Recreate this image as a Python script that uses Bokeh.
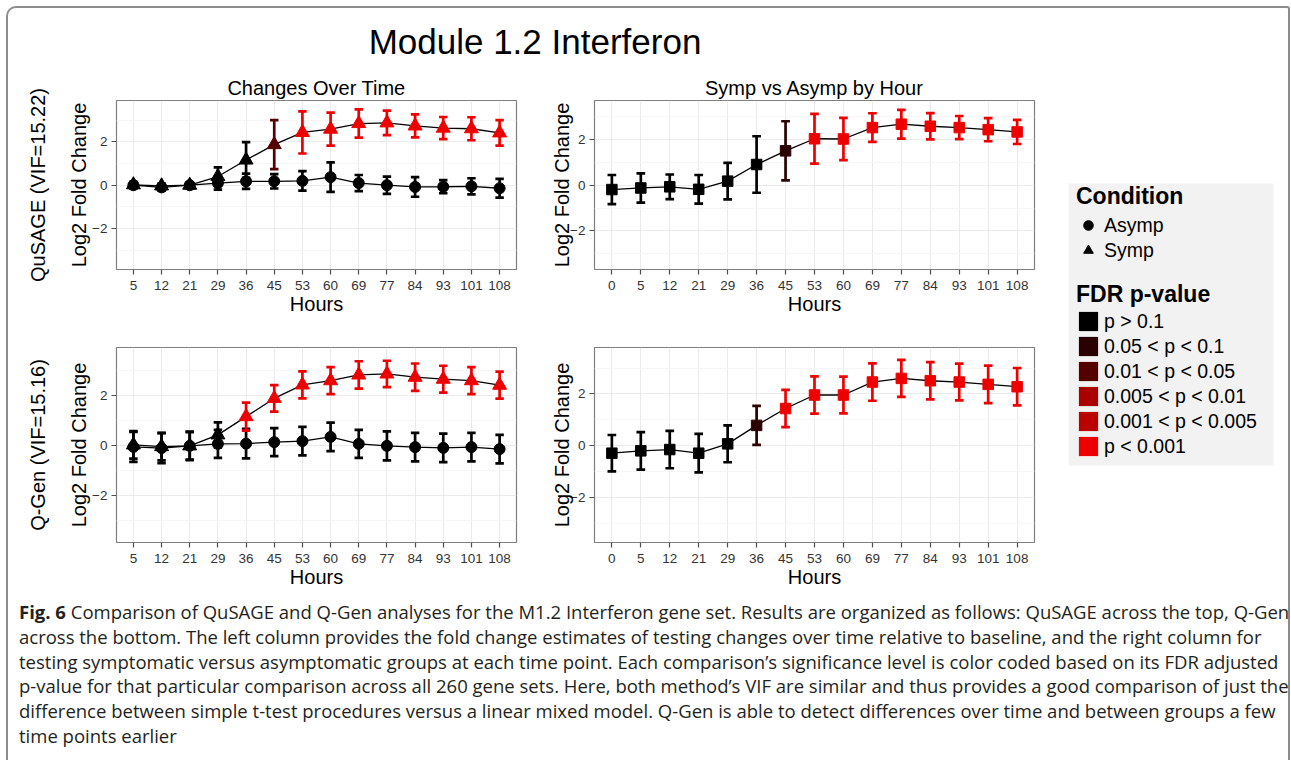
from bokeh.plotting import figure
from bokeh.models import (ColumnDataSource, Range1d, FixedTicker, LinearAxis,
                          Legend, LegendItem, BoxAnnotation, Div)
from bokeh.layouts import column, row
from bokeh.transform import dodge
from bokeh.embed import file_html
from bokeh.resources import INLINE

FONT = "Liberation Sans"

# ---------------- data ----------------
hours_time = [5, 12, 21, 29, 36, 45, 53, 60, 69, 77, 84, 93, 101, 108]
hours_group = [0, 5, 12, 21, 29, 36, 45, 53, 60, 69, 77, 84, 93, 101, 108]

sig_levels = ["p > 0.1", "0.05 < p < 0.1", "0.01 < p < 0.05",
              "0.005 < p < 0.01", "0.001 < p < 0.005", "p < 0.001"]
sig_colors = ["#000000", "#2b0000", "#550000", "#aa0000", "#bb0000", "#ee0000"]

conditions = ["Asymp", "Symp"]

# QuSAGE - changes over time
qusage_asymp_est = [0.0, -0.1, 0.0, 0.1, 0.18, 0.18, 0.2, 0.37, 0.1, 0.0, -0.08, -0.07, -0.05, -0.14]
qusage_asymp_err = [0.15, 0.15, 0.13, 0.3, 0.35, 0.33, 0.45, 0.68, 0.37, 0.4, 0.45, 0.3, 0.37, 0.43]
qusage_asymp_sig = ["p > 0.1"] * 14
qusage_symp_est = [0.02, -0.03, 0.0, 0.4, 1.16, 1.87, 2.43, 2.58, 2.84, 2.87, 2.73, 2.63, 2.6, 2.41]
qusage_symp_err = [0.1, 0.1, 0.1, 0.42, 0.82, 1.13, 0.97, 0.76, 0.65, 0.56, 0.53, 0.51, 0.53, 0.59]
qusage_symp_sig = ["p > 0.1"] * 5 + ["0.01 < p < 0.05"] + ["p < 0.001"] * 8

# QuSAGE - symp vs asymp by hour
qusage_diff_est = [-0.19, -0.12, -0.07, -0.18, 0.18, 0.91, 1.51, 2.04, 2.03, 2.53, 2.68, 2.59, 2.53, 2.44, 2.34]
qusage_diff_err = [0.64, 0.64, 0.54, 0.63, 0.8, 1.24, 1.3, 1.09, 0.93, 0.63, 0.63, 0.58, 0.51, 0.51, 0.53]
qusage_diff_sig = ["p > 0.1"] * 6 + ["0.05 < p < 0.1"] + ["p < 0.001"] * 8

# Q-Gen - changes over time
qgen_asymp_est = [-0.04, -0.09, 0.0, 0.08, 0.09, 0.15, 0.19, 0.36, 0.08, 0.0, -0.05, -0.08, -0.05, -0.13]
qgen_asymp_err = [0.6, 0.6, 0.57, 0.56, 0.59, 0.56, 0.57, 0.57, 0.56, 0.58, 0.57, 0.57, 0.57, 0.57]
qgen_asymp_sig = ["p > 0.1"] * 14
qgen_symp_est = [0.04, -0.03, 0.0, 0.44, 1.17, 1.9, 2.44, 2.61, 2.84, 2.88, 2.75, 2.67, 2.61, 2.43]
qgen_symp_err = [0.55, 0.55, 0.55, 0.5, 0.56, 0.53, 0.54, 0.54, 0.55, 0.53, 0.55, 0.54, 0.54, 0.54]
qgen_symp_sig = ["p > 0.1"] * 4 + ["p < 0.001"] * 10

# Q-Gen - symp vs asymp by hour
qgen_diff_est = [-0.28, -0.19, -0.14, -0.28, 0.08, 0.79, 1.44, 1.96, 1.96, 2.46, 2.6, 2.51, 2.46, 2.37, 2.28]
qgen_diff_err = [0.7, 0.72, 0.72, 0.74, 0.71, 0.75, 0.72, 0.72, 0.71, 0.72, 0.71, 0.72, 0.71, 0.72, 0.72]
qgen_diff_sig = ["p > 0.1"] * 5 + ["0.05 < p < 0.1"] + ["p < 0.001"] * 9

COLOR_OF = dict(zip(sig_levels, sig_colors))


def series_source(hours, est, err, sig):
    return ColumnDataSource(dict(
        x=list(range(len(hours))),
        est=est,
        lo=[e - d for e, d in zip(est, err)],
        hi=[e + d for e, d in zip(est, err)],
        color=[COLOR_OF[s] for s in sig],
    ))


def make_panel(hours, series, y_lo, y_hi, width, height, borders,
               title=None, row_label=None, ylab_standoff=2, rowlab_standoff=20):
    n = len(hours)
    bl, br, bt, bb = borders
    p = figure(width=width, height=height,
               x_range=Range1d(-0.6, n - 0.4), y_range=Range1d(y_lo, y_hi),
               output_backend="svg", toolbar_location=None,
               min_border_left=bl, min_border_right=br,
               min_border_top=bt, min_border_bottom=bb, margin=0)
    if title:
        p.title.text = title
        p.title.align = "center"
        p.title.text_font = FONT
        p.title.text_font_size = "20px"
        p.title.text_font_style = "normal"
        p.title.text_color = "black"
        p.title.standoff = 3
    p.outline_line_color = "#7f7f7f"
    p.outline_line_width = 1.2
    p.xaxis.ticker = FixedTicker(ticks=list(range(n)))
    p.xaxis.major_label_overrides = {i: str(h) for i, h in enumerate(hours)}
    p.yaxis.ticker = FixedTicker(ticks=[-2, 0, 2], minor_ticks=[-3, -1, 1, 3])
    for ax in (p.xaxis[0], p.yaxis[0]):
        ax.axis_line_color = None
        ax.major_tick_line_color = "#4d4d4d"
        ax.major_tick_line_width = 1.2
        ax.major_tick_out = 5
        ax.major_tick_in = 0
        ax.minor_tick_line_color = None
        ax.major_label_text_font = FONT
        ax.major_label_text_font_size = "13.5px"
        ax.major_label_text_color = "#333333"
        ax.major_label_standoff = 4
        ax.axis_label_text_font = FONT
        ax.axis_label_text_font_size = "20px"
        ax.axis_label_text_font_style = "normal"
        ax.axis_label_text_color = "black"
    p.xaxis.axis_label = "Hours"
    p.xaxis.axis_label_standoff = 0
    p.xaxis.major_label_standoff = 6
    p.yaxis.axis_label = "Log2 Fold Change"
    p.yaxis.axis_label_standoff = ylab_standoff
    p.xgrid.grid_line_color = "#ebebeb"
    p.ygrid.grid_line_color = "#ebebeb"
    p.ygrid.minor_grid_line_color = "#f6f6f6"
    if row_label:
        ra = LinearAxis(axis_label=row_label, ticker=FixedTicker(ticks=[]),
                        axis_line_color=None, major_tick_line_color=None,
                        minor_tick_line_color=None, major_label_text_font_size="0px",
                        axis_label_text_font=FONT, axis_label_text_font_size="20px",
                        axis_label_text_font_style="normal", axis_label_text_color="black",
                        axis_label_standoff=rowlab_standoff)
        p.add_layout(ra, "left")

    sources = [(series_source(hours, est, err, sig), marker, size)
               for est, err, sig, marker, size in series]
    for src, marker, size in sources:
        p.line("x", "est", source=src, line_color="black", line_width=1.3)
    for src, marker, size in sources:
        p.segment(x0="x", y0="lo", x1="x", y1="hi", source=src,
                  line_color="color", line_width=2.7)
        for end in ("lo", "hi"):
            p.segment(x0=dodge("x", -0.15, range=p.x_range), y0=end,
                      x1=dodge("x", 0.15, range=p.x_range), y1=end,
                      source=src, line_color="color", line_width=2.7)
        p.scatter("x", "est", source=src, marker=marker, size=size,
                  fill_color="color", line_color="color")
    return p


p11 = make_panel(hours_time,
                 [(qusage_asymp_est, qusage_asymp_err, qusage_asymp_sig, "circle", 11),
                  (qusage_symp_est, qusage_symp_err, qusage_symp_sig, "triangle", 14)],
                 -3.88, 3.9, 532, 248, (108, 24, 30, 49),
                 title="Changes Over Time", row_label="QuSAGE (VIF=15.22)",
                 ylab_standoff=-1, rowlab_standoff=17)
p12 = make_panel(hours_group,
                 [(qusage_diff_est, qusage_diff_err, qusage_diff_sig, "square", 10.5)],
                 -3.7, 3.72, 510, 248, (54, 16, 30, 49),
                 title="Symp vs Asymp by Hour", ylab_standoff=-6)
p21 = make_panel(hours_time,
                 [(qgen_asymp_est, qgen_asymp_err, qgen_asymp_sig, "circle", 11),
                  (qgen_symp_est, qgen_symp_err, qgen_symp_sig, "triangle", 14)],
                 -3.87, 3.94, 532, 274, (108, 24, 29, 50),
                 row_label="Q-Gen (VIF=15.16)", ylab_standoff=-1, rowlab_standoff=17)
p22 = make_panel(hours_group,
                 [(qgen_diff_est, qgen_diff_err, qgen_diff_sig, "square", 10.5)],
                 -3.72, 3.79, 510, 274, (54, 16, 29, 50), ylab_standoff=-6)

# ---------------- legend panel ----------------
LW, LH = 238, 522
lg = figure(width=LW, height=LH, x_range=Range1d(0, LW), y_range=Range1d(0, LH),
            x_axis_type=None, y_axis_type=None, output_backend="svg",
            toolbar_location=None, min_border=0, margin=0)
lg.outline_line_color = None
lg.add_layout(BoxAnnotation(left=18, right=223, bottom=127, top=409,
                            fill_color="#f2f2f2", fill_alpha=1.0, line_color=None))
# legend-key renderers (hidden; only their legend swatches are drawn)
cond_markers = {"Asymp": "circle", "Symp": "triangle"}
cond_items = []
for c in conditions:
    r = lg.scatter(x=[0], y=[0], marker=cond_markers[c], fill_color="black",
                   line_color="black", visible=False)
    cond_items.append(LegendItem(label=c, renderers=[r]))
sig_items = []
for s in sig_levels:
    r = lg.quad(left=[0], right=[0], top=[0], bottom=[0], fill_color=COLOR_OF[s],
                line_color=None, visible=False)
    sig_items.append(LegendItem(label=s, renderers=[r]))


def style_legend(leg):
    leg.background_fill_alpha = 0
    leg.border_line_color = None
    leg.padding = 0
    leg.margin = 0
    leg.title_text_font = FONT
    leg.title_text_font_size = "23px"
    leg.title_text_font_style = "bold"
    leg.title_text_color = "black"
    leg.label_text_font = FONT
    leg.label_text_font_size = "19.5px"
    leg.label_text_color = "black"
    leg.glyph_width = 24
    leg.glyph_height = 24
    leg.label_height = 24
    leg.spacing = 1
    leg.label_standoff = 4
    leg.inactive_fill_alpha = 0


# legend location = (left, bottom) in screen pixels from the frame's bottom-left
leg1 = Legend(items=cond_items, title="Condition", location=(26, 330), title_standoff=3)
leg2 = Legend(items=sig_items, title="FDR p-value", location=(26, 134), title_standoff=1)
style_legend(leg1)
style_legend(leg2)
lg.add_layout(leg1)
lg.add_layout(leg2)

# ---------------- texts ----------------
title_div = Div(
    text=("<div style=\"font-family:'Liberation Sans'; font-size:35px; line-height:40px; "
          "color:black; text-align:center; width:1054px; padding-top:14px;\">"
          "Module 1.2 Interferon</div>"),
    width=1054, height=62, margin=0)

caption_lines = [
    "<b>Fig. 6</b> Comparison of QuSAGE and Q-Gen analyses for the M1.2 Interferon gene set. Results are organized as follows: QuSAGE across the top, Q-Gen",
    "across the bottom. The left column provides the fold change estimates of testing changes over time relative to baseline, and the right column for",
    "testing symptomatic versus asymptomatic groups at each time point. Each comparison\u2019s significance level is color coded based on its FDR adjusted",
    "p-value for that particular comparison across all 260 gene sets. Here, both method\u2019s VIF are similar and thus provides a good comparison of just the",
    "difference between simple t-test procedures versus a linear mixed model. Q-Gen is able to detect differences over time and between groups a few",
    "time points earlier",
]
caption_div = Div(
    text=("<div style=\"font-family:'Open Sans'; font-size:18.5px; line-height:24.8px; "
          "color:#231f20; white-space:nowrap; padding-left:11px; padding-top:8px;\">"
          + "<br>".join(caption_lines) + "</div>"),
    width=1280, height=168, margin=0)

panels = column(row(p11, p12, margin=0), row(p21, p22, margin=0), margin=0)
middle = row(panels, lg, margin=0)
root = column(title_div, middle, caption_div, margin=(6, 0, 0, 6),
              styles={"border-top": "2px solid #8c8c8c", "border-left": "2px solid #8c8c8c",
                      "border-right": "2px solid #8c8c8c", "border-top-left-radius": "10px",
                      "border-top-right-radius": "3px"})

open("out.html", "w").write(file_html(root, INLINE))
